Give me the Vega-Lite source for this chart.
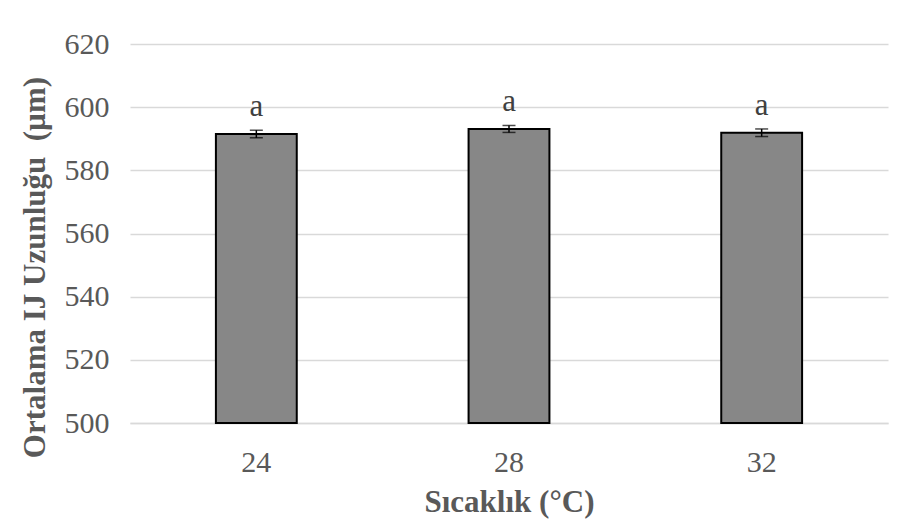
{
  "$schema": "https://vega.github.io/schema/vega-lite/v6.json",
  "width": 758,
  "height": 379,
  "autosize": {"type": "none"},
  "padding": {"left": 130, "top": 44, "right": 23, "bottom": 108},
  "background": "white",
  "config": {
    "font": "Liberation Serif",
    "view": {"stroke": null}
  },
  "data": {
    "values": [
      {"temp": "24", "mean": 591.5, "lo": 590.3, "hi": 592.7, "label": "a"},
      {"temp": "28", "mean": 593.1, "lo": 592.0, "hi": 594.2, "label": "a"},
      {"temp": "32", "mean": 591.9, "lo": 590.7, "hi": 593.1, "label": "a"}
    ]
  },
  "encoding": {
    "x": {
      "field": "temp",
      "type": "nominal",
      "sort": null,
      "scale": {"paddingInner": 0.68, "paddingOuter": 0.34},
      "axis": {
        "title": "Sıcaklık (°C)",
        "titleFont": "Liberation Serif",
        "titleFontSize": 31,
        "titleFontWeight": "bold",
        "titleColor": "#595959",
        "titlePadding": 10,
        "labelAngle": 0,
        "labelFontSize": 30,
        "labelColor": "#595959",
        "labelPadding": 24,
        "ticks": false,
        "domain": true,
        "domainColor": "#d9d9d9",
        "domainWidth": 1.5
      }
    }
  },
  "layer": [
    {
      "mark": {"type": "bar", "fill": "#878787", "stroke": "#000000", "strokeWidth": 2},
      "encoding": {
        "y": {
          "field": "mean",
          "type": "quantitative",
          "scale": {"domain": [500, 620], "zero": false, "nice": false},
          "axis": {
            "title": "Ortalama IJ Uzunluğu\u00a0 (µm)",
            "titleFont": "Liberation Serif",
            "titleFontSize": 31,
            "titleFontWeight": "bold",
            "titleColor": "#595959",
            "titleX": -95,
            "titleY": 223,
            "titleBaseline": "middle",
            "titleAlign": "center",
            "values": [500, 520, 540, 560, 580, 600, 620],
            "labelFontSize": 30,
            "labelColor": "#595959",
            "labelPadding": 21,
            "ticks": false,
            "domain": false,
            "grid": true,
            "gridColor": "#d9d9d9",
            "gridWidth": 1.5
          }
        },
        "y2": {"datum": 500}
      }
    },
    {
      "mark": {"type": "rule", "color": "#000000", "strokeWidth": 1.5},
      "encoding": {
        "y": {"field": "lo", "type": "quantitative"},
        "y2": {"field": "hi"}
      }
    },
    {
      "mark": {"type": "tick", "color": "#000000", "thickness": 1.5, "size": 13},
      "encoding": {"y": {"field": "lo", "type": "quantitative"}}
    },
    {
      "mark": {"type": "tick", "color": "#000000", "thickness": 1.5, "size": 13},
      "encoding": {"y": {"field": "hi", "type": "quantitative"}}
    },
    {
      "mark": {"type": "text", "fontSize": 31, "color": "#404040", "baseline": "alphabetic", "dy": -14},
      "encoding": {
        "y": {"field": "hi", "type": "quantitative"},
        "text": {"field": "label"}
      }
    }
  ]
}
